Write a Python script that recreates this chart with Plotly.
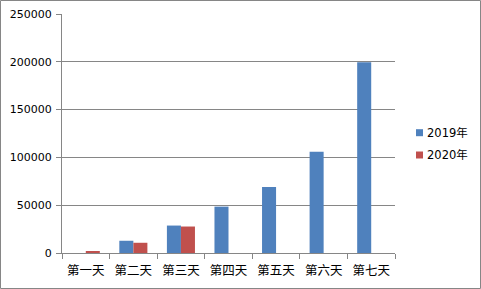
import plotly.graph_objects as go

categories = ["第一天", "第二天", "第三天", "第四天", "第五天", "第六天", "第七天"]
series_2019 = [0, 12800, 28700, 48500, 69000, 105800, 199500]
series_2020 = [1200, 10700, 27700, None, None, None, None]
series_names = ["2019年", "2020年"]
series_colors = ["#4F81BD", "#C0504D"]
y_ticks = [0, 50000, 100000, 150000, 200000, 250000]

W, H = 481, 289
L, R, T, B = 62, 86, 14, 36
pw = W - L - R
ph = H - T - B


def px_x(p):
    return (p - L) / pw


def px_y(p):
    return (T + ph - p) / ph


fig = go.Figure()
for name, vals, col in zip(series_names, [series_2019, series_2020], series_colors):
    fig.add_trace(go.Bar(x=categories, y=vals, name=name, showlegend=False,
                         marker=dict(color=col, line=dict(width=0))))

grey = "#868686"
shapes = [dict(type="rect", xref="paper", yref="paper",
               x0=px_x(0.5), x1=px_x(W - 0.5), y0=px_y(H - 0.5), y1=px_y(0.5),
               line=dict(color=grey, width=1), layer="below")]
annotations = []
legend_y = [132.7, 155.0]
for name, col, cy in zip(series_names, series_colors, legend_y):
    shapes.append(dict(type="rect", xref="paper", yref="paper",
                       x0=px_x(416), x1=px_x(423), y0=px_y(cy + 3.5), y1=px_y(cy - 3.5),
                       line=dict(width=0), fillcolor=col))
    annotations.append(dict(xref="paper", yref="paper", x=px_x(425), y=px_y(cy),
                            xanchor="left", yanchor="middle", showarrow=False, text=name,
                            font=dict(family="DejaVu Sans, Noto Sans CJK SC", size=11.5, color="black")))

fig.update_layout(
    width=W, height=H,
    margin=dict(l=L, r=R, t=T, b=B, autoexpand=False),
    paper_bgcolor="white", plot_bgcolor="white",
    barmode="group", bargap=0.41, bargroupgap=0,
    showlegend=False,
    font=dict(family="DejaVu Sans, Noto Sans CJK SC", size=11, color="black"),
    xaxis=dict(type="category", showline=True, linecolor=grey, linewidth=1,
               ticks="outside", tickson="boundaries", ticklen=5, tickcolor=grey,
               tickangle=0, automargin=False, ticklabelstandoff=6,
               tickfont=dict(family="Noto Sans CJK SC", size=12.5), showgrid=False),
    yaxis=dict(range=[0, 250000], tickvals=y_ticks, ticktext=[str(v) for v in y_ticks],
               showline=True, linecolor=grey, linewidth=1, automargin=False,
               ticklabelstandoff=2,
               ticks="outside", ticklen=5, tickcolor=grey, showgrid=True, gridcolor=grey,
               gridwidth=1, zeroline=False, tickfont=dict(size=11)),
    shapes=shapes,
    annotations=annotations,
)
fig.write_html("out.html")
